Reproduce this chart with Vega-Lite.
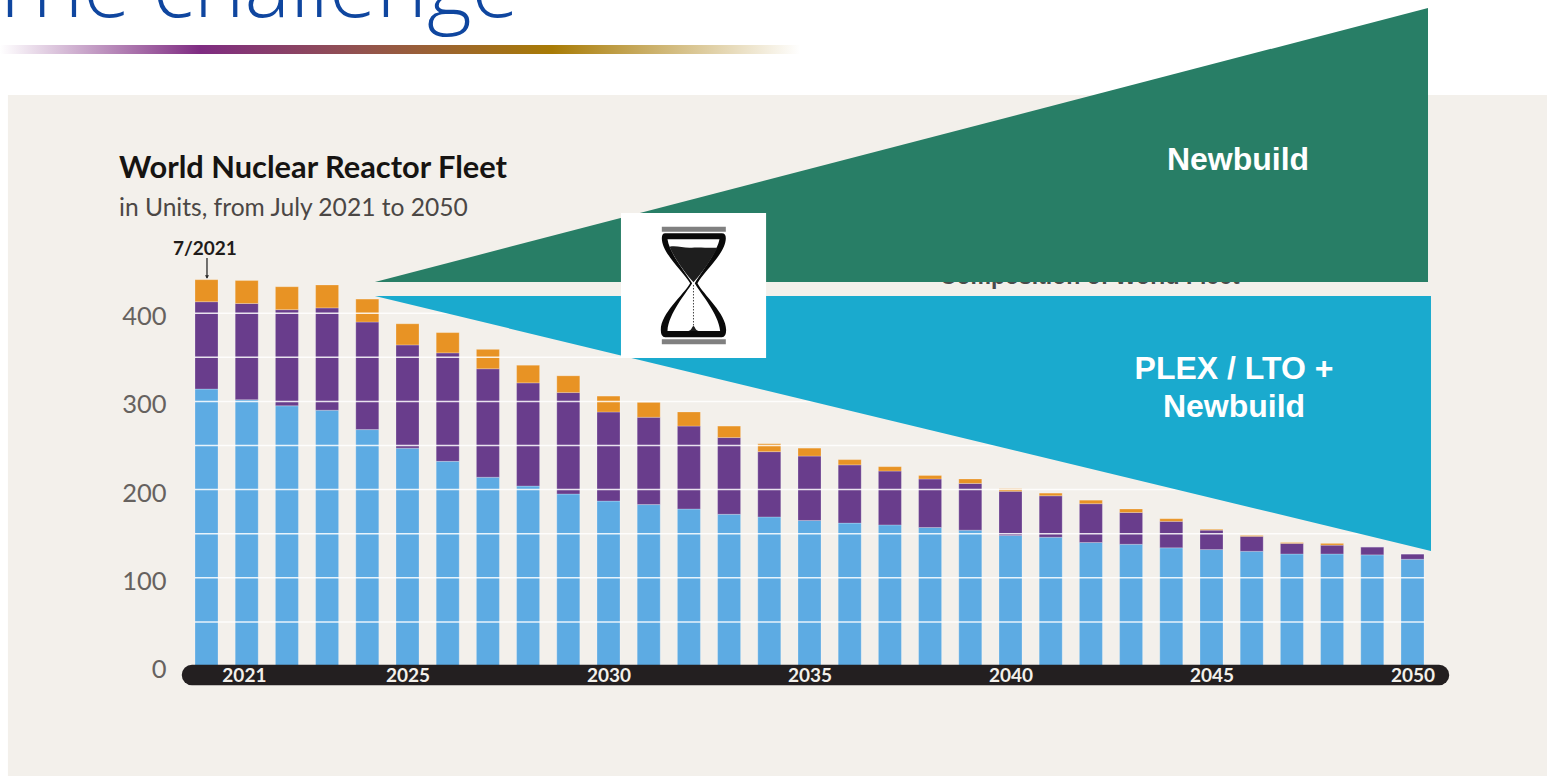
{
"$schema":"https://vega.github.io/schema/vega-lite/v6.json",
"width":1547,"height":776,"padding":0,"autosize":{"type":"none"},
"background":"#ffffff",
"config":{"view":{"stroke":null}},
"layer":[
{"data":{"values":[{"x":2015.06,"x2":2053.346,"y":647.4,"y2":-124.72}]},
 "mark":{"type":"rect","color":"#f3f0eb"},
 "encoding":{"x":{"field":"x","type":"quantitative","title":null},"x2":{"field":"x2"},"y":{"field":"y","type":"quantitative","title":null},"y2":{"field":"y2"}}},
{"data":{"values":[{"x":2014.863,"x2":2034.764,"y":704.1,"y2":694}]},
 "mark":{"type":"rect","color":{"gradient":"linear","x1":0,"x2":1,"y1":0,"y2":0,"stops":[{"offset":0,"color":"#ffffff"},{"offset":0.25,"color":"#7f2c82"},{"offset":0.45,"color":"#92524f"},{"offset":0.69,"color":"#a87b05"},{"offset":1,"color":"#ffffff"}]}},
 "encoding":{"x":{"field":"x","type":"quantitative","title":null},"x2":{"field":"x2"},"y":{"field":"y","type":"quantitative","title":null},"y2":{"field":"y2"}}},
{"data":{"values":[{"label":"The challenge","x":2027.77,"y":735.8}]},
 "mark":{"type":"text","align":"right","baseline":"alphabetic","font":"Open Sans","fontWeight":300,"fontSize":86,"color":"#0f469f"},
 "encoding":{"x":{"field":"x","type":"quantitative","title":null},"y":{"field":"y","type":"quantitative","title":null},"text":{"field":"label"}}},
{"data":{"values":[
{"slot":2020,"a_blue":314,"b_purple":99,"c_orange":25},{"slot":2021,"a_blue":302,"b_purple":109,"c_orange":26},
{"slot":2022,"a_blue":295,"b_purple":109,"c_orange":26},{"slot":2023,"a_blue":290,"b_purple":116,"c_orange":26},
{"slot":2024,"a_blue":268,"b_purple":122,"c_orange":26},{"slot":2025,"a_blue":247,"b_purple":117,"c_orange":24},
{"slot":2026,"a_blue":232,"b_purple":123,"c_orange":23},{"slot":2027,"a_blue":214,"b_purple":123,"c_orange":22},
{"slot":2028,"a_blue":204,"b_purple":117,"c_orange":20},{"slot":2029,"a_blue":195,"b_purple":115,"c_orange":19},
{"slot":2030,"a_blue":187,"b_purple":101,"c_orange":18},{"slot":2031,"a_blue":183,"b_purple":99,"c_orange":17},
{"slot":2032,"a_blue":178,"b_purple":94,"c_orange":16},{"slot":2033,"a_blue":172,"b_purple":87,"c_orange":13},
{"slot":2034,"a_blue":169,"b_purple":74,"c_orange":9},{"slot":2035,"a_blue":165,"b_purple":73,"c_orange":9},
{"slot":2036,"a_blue":162,"b_purple":66,"c_orange":6},{"slot":2037,"a_blue":160,"b_purple":61,"c_orange":5},
{"slot":2038,"a_blue":157,"b_purple":55,"c_orange":4},{"slot":2039,"a_blue":154,"b_purple":53,"c_orange":5},
{"slot":2040,"a_blue":148,"b_purple":50,"c_orange":3},{"slot":2041,"a_blue":146,"b_purple":47,"c_orange":3},
{"slot":2042,"a_blue":140,"b_purple":44,"c_orange":4},{"slot":2043,"a_blue":138,"b_purple":36,"c_orange":4},
{"slot":2044,"a_blue":134,"b_purple":30,"c_orange":3},{"slot":2045,"a_blue":132,"b_purple":22,"c_orange":1},
{"slot":2046,"a_blue":130,"b_purple":17,"c_orange":1},{"slot":2047,"a_blue":127,"b_purple":12,"c_orange":1},
{"slot":2048,"a_blue":127,"b_purple":10,"c_orange":2},{"slot":2049,"a_blue":126,"b_purple":9,"c_orange":0},
{"slot":2050,"a_blue":121,"b_purple":6,"c_orange":0}]},
 "transform":[{"fold":["a_blue","b_purple","c_orange"],"as":["series","units"]}],
 "mark":{"type":"bar","size":23,"stroke":"#ffffff","strokeOpacity":0.4,"strokeWidth":0.6},
 "encoding":{
  "x":{"field":"slot","type":"quantitative","title":null,"scale":{"domain":[2014.863,2053.346],"nice":false,"zero":false,"padding":0},
       "axis":{"orient":"bottom","offset":-101,"values":[2020.93,2025,2030,2035,2040,2045,2050],"format":"d","ticks":false,"domain":false,"grid":false,"title":null,"labelPadding":0,"labelBaseline":"middle","labelFont":"Lato","labelFontSize":19,"labelFontWeight":"bold","labelColor":"#f3f0eb","labelOverlap":false,"labelBound":false,"labelFlush":false,"zindex":1}},
  "y":{"field":"units","type":"quantitative","title":null,"stack":"zero","scale":{"domain":[-124.72,755.1],"nice":false,"zero":false,"padding":0},
       "axis":{"orient":"left","offset":-170,"values":[0,100,200,300,400],"ticks":false,"domain":false,"grid":false,"title":null,"labelPadding":4,"labelBaseline":"middle","labelOffset":3.5,"labelFont":"Lato","labelFontSize":25.5,"labelColor":"#66625f","labelOverlap":false,"labelBound":false,"labelFlush":false,"zindex":1}},
  "color":{"field":"series","type":"nominal","legend":null,"scale":{"domain":["a_blue","b_purple","c_orange"],"range":["#5dabe3","#693d8c","#e89324"]}},
  "order":{"field":"series","type":"ordinal"}}},
{"data":{"values":[{"g":50},{"g":100},{"g":150},{"g":200},{"g":250},{"g":300},{"g":350},{"g":400}]},
 "mark":{"type":"rule","color":"#ffffff","opacity":0.85,"strokeWidth":1.5},
 "encoding":{"y":{"field":"g","type":"quantitative","title":null},"x":{"datum":2019.71,"type":"quantitative","title":null},"x2":{"datum":2050.3}}},
{"data":{"values":[{"x":2019.639,"x2":2050.659,"y":-10.2}]},
 "mark":{"type":"rule","color":"#231f20","strokeWidth":20.5,"strokeCap":"round"},
 "encoding":{"x":{"field":"x","type":"quantitative","title":null},"x2":{"field":"x2"},"y":{"field":"y","type":"quantitative","title":null}}},
{"data":{"values":[{"x":2020.012,"y":462.6,"y2":440}]},
 "mark":{"type":"rule","color":"#2b2b2b","strokeWidth":1.3},
 "encoding":{"x":{"field":"x","type":"quantitative","title":null},"y":{"field":"y","type":"quantitative","title":null},"y2":{"field":"y2"}}},
{"data":{"values":[{"x":2020.012,"y":441}]},
 "mark":{"type":"point","shape":"triangle-down","filled":true,"size":16,"color":"#2b2b2b","opacity":1},
 "encoding":{"x":{"field":"x","type":"quantitative","title":null},"y":{"field":"y","type":"quantitative","title":null}}},
{"data":{"values":[{"label":"World Nuclear Reactor Fleet","x":2017.823,"y":563.5}]},
 "mark":{"type":"text","align":"left","baseline":"middle","font":"Lato","fontWeight":"bold","fontSize":30.8,"color":"#161412"},
 "encoding":{"x":{"field":"x","type":"quantitative","title":null},"y":{"field":"y","type":"quantitative","title":null},"text":{"field":"label"}}},
{"data":{"values":[{"label":"in Units, from July 2021 to 2050","x":2017.823,"y":518.2}]},
 "mark":{"type":"text","align":"left","baseline":"middle","font":"Lato","fontSize":24.6,"color":"#4b4745"},
 "encoding":{"x":{"field":"x","type":"quantitative","title":null},"y":{"field":"y","type":"quantitative","title":null},"text":{"field":"label"}}},
{"data":{"values":[{"label":"7/2021","x":2019.96,"y":472.8}]},
 "mark":{"type":"text","align":"center","baseline":"middle","font":"Lato","fontWeight":"bold","fontSize":19,"color":"#1f1c1a"},
 "encoding":{"x":{"field":"x","type":"quantitative","title":null},"y":{"field":"y","type":"quantitative","title":null},"text":{"field":"label"}}},
{"data":{"values":[{"label":"Composition of World Fleet","x":2041.97,"y":441}]},
 "mark":{"type":"text","align":"center","baseline":"middle","font":"Liberation Sans","fontWeight":"bold","fontSize":23,"color":"#4a4a4a"},
 "encoding":{"x":{"field":"x","type":"quantitative","title":null},"y":{"field":"y","type":"quantitative","title":null},"text":{"field":"label"}}},
{"data":{"values":[{"x":2024.19,"y":435.4,"y2":435.4},{"x":2050.386,"y":746,"y2":435.4}]},
 "mark":{"type":"area","color":"#287e66","interpolate":"linear","opacity":1},
 "encoding":{"x":{"field":"x","type":"quantitative","title":null},"y":{"field":"y","type":"quantitative","title":null},"y2":{"field":"y2"}}},
{"data":{"values":[{"x":2024.19,"y":419.5,"y2":419.5},{"x":2050.46,"y":419.5,"y2":130.4}]},
 "mark":{"type":"area","color":"#1aaace","interpolate":"linear","opacity":1},
 "encoding":{"x":{"field":"x","type":"quantitative","title":null},"y":{"field":"y","type":"quantitative","title":null},"y2":{"field":"y2"}}},
{"data":{"values":[{"x":2030.31,"x2":2033.92,"y":513.6,"y2":349.2}]},
 "mark":{"type":"rect","color":"#ffffff"},
 "encoding":{"x":{"field":"x","type":"quantitative","title":null},"x2":{"field":"x2"},"y":{"field":"y","type":"quantitative","title":null},"y2":{"field":"y2"}}},
{"data":{"values":[{"x":2032.114,"y":431.97}]},
 "layer":[
  {"mark":{"type":"point","filled":true,"opacity":1,"size":0.4444,"color":"#808080","shape":"M-95,-175L97,-175L97,-160L-95,-160ZM-95,163L97,163L97,178L-95,178Z"}},
  {"mark":{"type":"point","filled":true,"opacity":1,"size":0.4444,"color":"#0a0a0a","shape":"M-85,-155L85,-155Q97,-155 97,-140C97,-95 30,-40 12,-5C30,30 98,85 98,135Q98,157 85,157L-85,157Q-98,157 -98,135C-98,85 -30,30 -10,-5C-30,-40 -95,-95 -95,-140Q-95,-155 -85,-155Z"}},
  {"mark":{"type":"point","filled":true,"opacity":1,"size":0.4444,"color":"#ffffff","shape":"M-78,-137L78,-137C70,-95 20,-35 4,-5C20,25 75,85 80,138L-78,138C-75,85 -22,25 -4,-5C-22,-35 -72,-95 -78,-137Z"}},
  {"mark":{"type":"point","filled":true,"opacity":1,"size":0.4444,"color":"#1e1e1e","shape":"M-72,-115C-50,-120 -30,-110 -5,-112C20,-114 50,-110 72,-112C50,-70 20,-30 0,-8C-20,-30 -55,-75 -72,-115ZM-15,138C-5,135 -5,125 0,123C5,125 5,135 15,138Z"}}
 ],
 "encoding":{"x":{"field":"x","type":"quantitative","title":null},"y":{"field":"y","type":"quantitative","title":null}}},
{"data":{"values":[{"x":2032.114,"y":432,"y2":386}]},
 "mark":{"type":"rule","color":"#444444","strokeWidth":1,"strokeDash":[1.5,1.5]},
 "encoding":{"x":{"field":"x","type":"quantitative","title":null},"y":{"field":"y","type":"quantitative","title":null},"y2":{"field":"y2"}}},
{"data":{"values":[{"label":"Newbuild","x":2045.66,"y":573.6},{"label":"PLEX / LTO +","x":2045.56,"y":336.8},{"label":"Newbuild","x":2045.56,"y":293.7}]},
 "mark":{"type":"text","align":"center","baseline":"middle","font":"Liberation Sans","fontWeight":"bold","fontSize":32,"color":"#ffffff"},
 "encoding":{"x":{"field":"x","type":"quantitative","title":null},"y":{"field":"y","type":"quantitative","title":null},"text":{"field":"label"}}}
]
}
